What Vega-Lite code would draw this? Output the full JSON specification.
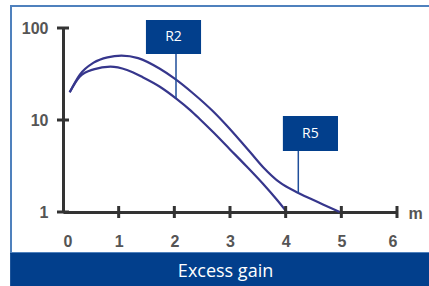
{
  "$schema": "https://vega.github.io/schema/vega-lite/v6.json",
  "width": 334,
  "height": 184,
  "autosize": {"type": "none"},
  "padding": {"left": 63, "top": 28, "right": 32, "bottom": 74},
  "background": "white",
  "config": {"view": {"stroke": null}},
  "datasets": {
    "curves": [
      {"series": "R2", "x": 0.12, "y": 20},
      {"series": "R2", "x": 0.3, "y": 29.5},
      {"series": "R2", "x": 0.55, "y": 35.5},
      {"series": "R2", "x": 0.85, "y": 38},
      {"series": "R2", "x": 1.15, "y": 35},
      {"series": "R2", "x": 1.44, "y": 29},
      {"series": "R2", "x": 1.74, "y": 23},
      {"series": "R2", "x": 2.04, "y": 17},
      {"series": "R2", "x": 2.28, "y": 12.9},
      {"series": "R2", "x": 2.46, "y": 10.2},
      {"series": "R2", "x": 2.7, "y": 7.35},
      {"series": "R2", "x": 3.0, "y": 4.79},
      {"series": "R2", "x": 3.3, "y": 3.12},
      {"series": "R2", "x": 3.6, "y": 2.0},
      {"series": "R2", "x": 3.85, "y": 1.34},
      {"series": "R2", "x": 4.02, "y": 1.0},
      {"series": "R5", "x": 0.12, "y": 20},
      {"series": "R5", "x": 0.3, "y": 31},
      {"series": "R5", "x": 0.55, "y": 42},
      {"series": "R5", "x": 0.8, "y": 48},
      {"series": "R5", "x": 1.05, "y": 50},
      {"series": "R5", "x": 1.35, "y": 47},
      {"series": "R5", "x": 1.74, "y": 36},
      {"series": "R5", "x": 2.0, "y": 28.3},
      {"series": "R5", "x": 2.34, "y": 19.4},
      {"series": "R5", "x": 2.69, "y": 12.5},
      {"series": "R5", "x": 2.94, "y": 8.7},
      {"series": "R5", "x": 3.2, "y": 5.8},
      {"series": "R5", "x": 3.36, "y": 4.49},
      {"series": "R5", "x": 3.6, "y": 3.05},
      {"series": "R5", "x": 3.9, "y": 2.08},
      {"series": "R5", "x": 4.2, "y": 1.64},
      {"series": "R5", "x": 4.45, "y": 1.39},
      {"series": "R5", "x": 4.67, "y": 1.21},
      {"series": "R5", "x": 4.97, "y": 1.0}
    ],
    "xticks": [{"x": 1, "y": 1}, {"x": 2, "y": 1}, {"x": 3, "y": 1}, {"x": 4, "y": 1}, {"x": 5, "y": 1}, {"x": 6, "y": 1}],
    "yticks": [{"x": 0, "y": 1}, {"x": 0, "y": 10}, {"x": 0, "y": 100}],
    "notes": [
      {"label": "R2", "x": 2.03, "ytip": 17.3, "x1": 1.49, "x2": 2.48, "y1": 122.2, "y2": 52.2, "tx": 1.985, "ty": 79.9},
      {"label": "R5", "x": 4.227, "ytip": 1.61, "x1": 3.95, "x2": 4.94, "y1": 11.05, "y2": 4.6, "tx": 4.445, "ty": 7.13}
    ],
    "frame": [{"x1": -0.934, "x2": 7, "y1": 173.4, "y2": 0.358, "bx1": -0.95, "bx2": 7, "by1": 0.358, "by2": 0.1, "tx": 2.92, "ty": 0.223, "caption": "Excess gain"}]
  },
  "layer": [
    {
      "data": {"name": "frame"},
      "mark": {"type": "rect", "fill": null, "stroke": "#4f81bd", "strokeWidth": 2},
      "encoding": {
        "x": {"field": "x1", "type": "quantitative", "scale": {"domain": [0, 6], "nice": false, "zero": false},
              "axis": {"values": [0, 1, 2, 3, 4, 5, 6], "format": "d", "ticks": false, "domainColor": "#333", "domainWidth": 3, "grid": false, "labelPadding": 21, "labelFont": "Liberation Sans", "labelFontSize": 16, "labelFontWeight": "bold", "labelColor": "#555", "title": "m", "titleX": 345, "titleY": 1, "titleAlign": "left", "titleBaseline": "middle", "titleFont": "Liberation Sans", "titleFontSize": 16, "titleFontWeight": "bold", "titleColor": "#555"}},
        "x2": {"field": "x2"},
        "y": {"field": "y1", "type": "quantitative", "scale": {"type": "log", "domain": [1, 100], "nice": false},
              "axis": {"values": [1, 10, 100], "format": "d", "ticks": false, "domainColor": "#333", "domainWidth": 3, "grid": false, "labelPadding": 15, "labelFont": "Liberation Sans", "labelFontSize": 16, "labelFontWeight": "bold", "labelColor": "#555", "title": null}},
        "y2": {"field": "y2"}
      }
    },
    {
      "data": {"name": "frame"},
      "mark": {"type": "rect", "fill": "#023f8c"},
      "encoding": {
        "x": {"field": "bx1", "type": "quantitative"},
        "x2": {"field": "bx2"},
        "y": {"field": "by1", "type": "quantitative"},
        "y2": {"field": "by2"}
      }
    },
    {
      "data": {"name": "frame"},
      "mark": {"type": "text", "color": "white", "font": "Open Sans", "fontSize": 18, "align": "center", "baseline": "middle"},
      "encoding": {
        "x": {"field": "tx", "type": "quantitative"},
        "y": {"field": "ty", "type": "quantitative"},
        "text": {"field": "caption"}
      }
    },
    {
      "data": {"name": "curves"},
      "mark": {"type": "line", "interpolate": "monotone", "color": "#36368c", "strokeWidth": 2.2},
      "encoding": {
        "x": {"field": "x", "type": "quantitative"},
        "y": {"field": "y", "type": "quantitative"},
        "detail": {"field": "series"}
      }
    },
    {
      "data": {"name": "xticks"},
      "mark": {"type": "tick", "orient": "vertical", "color": "#333", "size": 12, "thickness": 3, "opacity": 1},
      "encoding": {
        "x": {"field": "x", "type": "quantitative"},
        "y": {"field": "y", "type": "quantitative"}
      }
    },
    {
      "data": {"name": "yticks"},
      "mark": {"type": "tick", "orient": "horizontal", "color": "#333", "size": 12, "thickness": 3, "opacity": 1},
      "encoding": {
        "x": {"field": "x", "type": "quantitative"},
        "y": {"field": "y", "type": "quantitative"}
      }
    },
    {
      "data": {"name": "notes"},
      "mark": {"type": "rule", "color": "#1f4e9a", "strokeWidth": 1.5},
      "encoding": {
        "x": {"field": "x", "type": "quantitative"},
        "y": {"field": "y2", "type": "quantitative"},
        "y2": {"field": "ytip"}
      }
    },
    {
      "data": {"name": "notes"},
      "mark": {"type": "rect", "fill": "#023f8c"},
      "encoding": {
        "x": {"field": "x1", "type": "quantitative"},
        "x2": {"field": "x2"},
        "y": {"field": "y1", "type": "quantitative"},
        "y2": {"field": "y2"}
      }
    },
    {
      "data": {"name": "notes"},
      "mark": {"type": "text", "color": "white", "font": "Open Sans", "fontSize": 14, "align": "center", "baseline": "middle"},
      "encoding": {
        "x": {"field": "tx", "type": "quantitative"},
        "y": {"field": "ty", "type": "quantitative"},
        "text": {"field": "label"}
      }
    }
  ]
}
